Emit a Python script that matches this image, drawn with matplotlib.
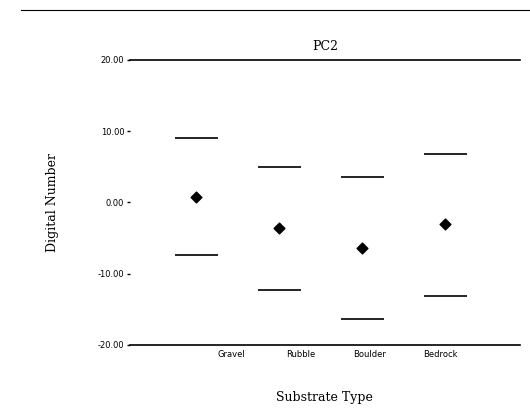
import matplotlib
matplotlib.use("Agg")
import matplotlib.pyplot as plt

# PC2 digital number by substrate type: mean with upper/lower bounds
categories = ["Gravel", "Rubble", "Boulder", "Bedrock"]
means = [0.8, -3.6, -6.4, -3.0]
upper = [9.0, 5.0, 3.6, 6.8]
lower = [-7.4, -12.3, -16.4, -13.1]
yticks = [-20, -10, 0, 10, 20]
ytick_labels = ["-20.00", "-10.00", "0.00", "10.00", "20.00"]

fig = plt.figure(figsize=(5.30, 4.18), dpi=100)
ax = fig.add_axes([0.245, 0.175, 0.736, 0.682])

x = list(range(len(categories)))
half = 0.26
ax.hlines(upper, [v - half for v in x], [v + half for v in x], color="black", lw=1.2)
ax.hlines(lower, [v - half for v in x], [v + half for v in x], color="black", lw=1.2)
ax.scatter(x, means, marker="D", s=30, color="black", zorder=3)

ax.set_xlim(-0.8, 3.9)
ax.set_ylim(-20, 20)
ax.set_yticks(yticks)
ax.set_yticklabels(ytick_labels, fontsize=6, family="DejaVu Sans")

# category labels sit on their own, slightly narrower, spacing
label_pos = [0.42, 1.26, 2.09, 2.94]
ax.set_xticks(label_pos)
ax.set_xticklabels(categories, fontsize=6, family="DejaVu Sans")
ax.tick_params(axis="y", length=2, width=1, pad=2)
ax.tick_params(axis="x", length=0, pad=4)

for side in ("left", "right"):
    ax.spines[side].set_visible(False)
ax.spines["top"].set_linewidth(1.2)
ax.spines["bottom"].set_linewidth(1.2)

ax.set_title("PC2", fontsize=9, family="DejaVu Serif", pad=7)
ax.set_xlabel("Substrate Type", fontsize=9, family="DejaVu Serif", labelpad=23)
ax.set_ylabel("Digital Number", fontsize=9, family="DejaVu Serif", labelpad=28)

# rule across the top of the page
fig.add_artist(plt.Line2D([0.04, 1.0], [0.975, 0.975], color="black", lw=0.8))

fig.savefig("out.png", dpi=100)
